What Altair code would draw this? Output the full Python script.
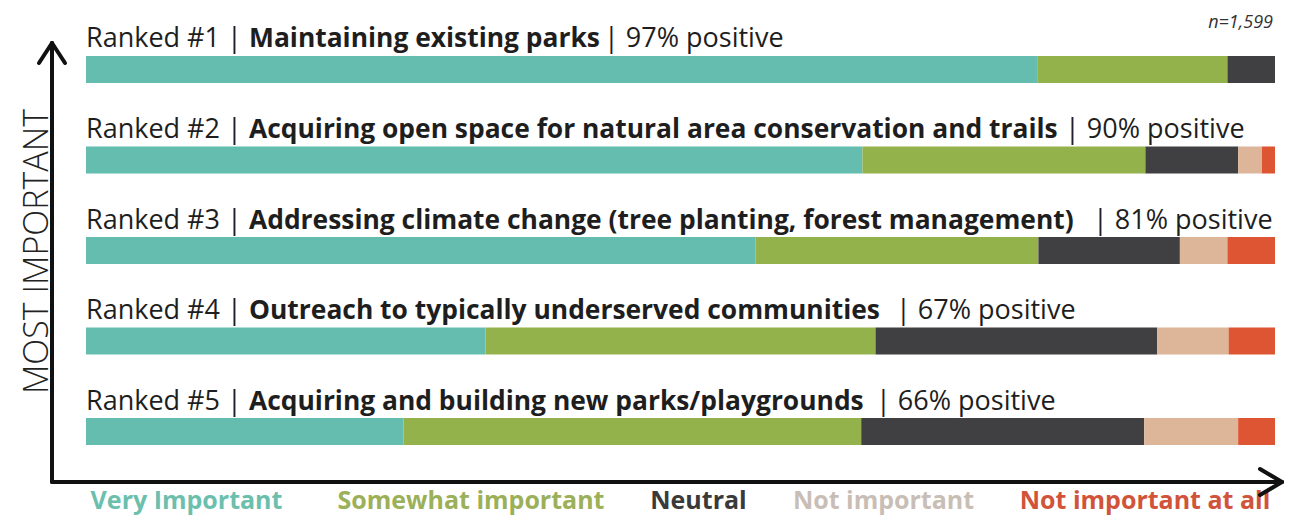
import altair as alt
import pandas as pd

# ---------------- data ----------------
ranks = [1, 2, 3, 4, 5]
titles = [
    "Maintaining existing parks",
    "Acquiring open space for natural area conservation and trails",
    "Addressing climate change (tree planting, forest management)",
    "Outreach to typically underserved communities",
    "Acquiring and building new parks/playgrounds",
]
positive = [97, 90, 81, 67, 66]
categories = ["Very Important", "Somewhat important", "Neutral",
              "Not important", "Not important at all"]
very_important = [80.0, 65.3, 56.3, 33.6, 26.7]
somewhat_important = [16.0, 23.8, 23.8, 32.8, 38.5]
neutral = [4.0, 7.8, 11.9, 23.7, 23.8]
not_important = [0.0, 2.0, 4.0, 6.0, 7.9]
not_important_at_all = [0.0, 1.1, 4.0, 3.9, 3.1]
n_label = "n=1,599"
axis_label = "MOST IMPORTANT"

# ---------------- styles / layout ----------------
bar_colors = ["#64bdae", "#94b24c", "#403f41", "#ddb598", "#dd5533"]
legend_colors = ["#6cbfad", "#9bb058", "#3a3a3a", "#c9beb5", "#d0533a"]
FONT = "Open Sans"
suffix_x = [518, 979, 1007, 810, 790]          # label suffix start (px)
legend_center_x = [100.5, 385, 612.5, 797.5, 1059]

series = [very_important, somewhat_important, neutral, not_important, not_important_at_all]
rows = []
for k, (cat, vals) in enumerate(zip(categories, series)):
    for r, v in zip(ranks, vals):
        rows.append({"rank": r, "category": cat, "value": v, "k": k})
bars_df = pd.DataFrame(rows)

labels_df = pd.DataFrame({
    "rank": ranks,
    "prefix": [f"Ranked #{r} |" for r in ranks],
    "title": titles,
    "suffix": [f"| {p}% positive" for p in positive],
    "sx": suffix_x,
})

legend_df = pd.DataFrame({"category": categories, "cx": legend_center_x,
                          "lc": legend_colors})

yenc = alt.Y("rank:O", scale=alt.Scale(paddingInner=0.7017, paddingOuter=0), axis=None)

bars = alt.Chart(bars_df).mark_bar().encode(
    x=alt.X("value:Q", stack="zero",
            scale=alt.Scale(domain=[0, 100], nice=False, zero=True), axis=None),
    y=yenc,
    color=alt.Color("category:N",
                    scale=alt.Scale(domain=categories, range=bar_colors), legend=None),
    order=alt.Order("k:Q"),
)

TXT = "#1e1e1e"
DY = -22
prefix = alt.Chart(labels_df).mark_text(
    align="left", baseline="alphabetic", dy=DY, font=FONT, fontSize=27, color=TXT
).encode(x=alt.value(0), y=yenc, text="prefix:N")

title_t = alt.Chart(labels_df).mark_text(
    align="left", baseline="alphabetic", dy=DY, font=FONT, fontSize=26.4,
    fontWeight="bold", color=TXT
).encode(x=alt.value(163), y=yenc, text="title:N")

suffix = alt.Chart(labels_df).mark_text(
    align="left", baseline="alphabetic", dy=DY, font=FONT, fontSize=27, color=TXT
).encode(x=alt.X("sx:Q", scale=None), y=yenc, text="suffix:N")

legend = alt.Chart(legend_df).mark_text(
    align="center", baseline="alphabetic", font=FONT, fontSize=25, fontWeight="bold"
).encode(
    x=alt.X("cx:Q", scale=None),
    y=alt.value(453),
    text="category:N",
    color=alt.Color("lc:N", scale=None),
)

one = alt.Data(values=[{"a": 1}])
nlab = alt.Chart(one).mark_text(
    align="right", baseline="alphabetic", font=FONT, fontSize=18,
    fontStyle="italic", color="#333333", text=n_label
).encode(x=alt.value(1187), y=alt.value(-28))

ylab = alt.Chart(one).mark_text(
    align="center", baseline="middle", angle=270, font=FONT, fontSize=34,
    fontWeight=300, color="#222222", text=axis_label
).encode(x=alt.value(-48), y=alt.value(195.5))

AX = "#111111"
def seg(x1, y1, x2, y2):
    return alt.Chart(one).mark_rule(color=AX, strokeWidth=4, strokeCap="round").encode(
        x=alt.value(x1), y=alt.value(y1), x2=alt.value(x2), y2=alt.value(y2))

axes = [
    seg(-34, -13, -34, 426),
    seg(-34, 426, 1196, 426),
    seg(-34, -13, -47, 7),
    seg(-34, -13, -21, 7),
    seg(1196, 426, 1174, 413),
    seg(1196, 426, 1174, 439),
]

chart = alt.layer(bars, prefix, title_t, suffix, legend, nlab, ylab, *axes).properties(
    width=1189, height=389,
    autosize=alt.AutoSizeParams(type="none"),
    padding={"left": 78, "top": 48, "right": 20, "bottom": 71},
    background="white",
).configure_view(stroke=None)

chart.save("out.html", embed_options={"renderer": "svg", "actions": False})
